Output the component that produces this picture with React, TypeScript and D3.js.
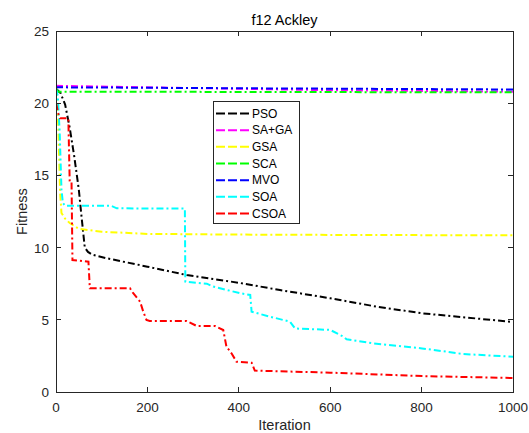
import React from "react";
import * as d3 from "d3";

type Pt = [number, number];

const xTicks = [0, 200, 400, 600, 800, 1000];
const yTicks = [0, 5, 10, 15, 20, 25];

const seriesNames = ["PSO", "SA+GA", "GSA", "SCA", "MVO", "SOA", "CSOA"];
const seriesColors = ["#000000", "#ff00ff", "#ffff00", "#00ff00", "#0000ff", "#00ffff", "#ff0000"];

const psoData: Pt[] = [
  [0, 21.0], [10, 20.7], [20, 19.9], [30, 18.3], [40, 16.3], [50, 14.0], [56, 12.1], [63, 10.0],
  [70, 9.7], [80, 9.5], [111, 9.26], [200, 8.68], [286, 8.1], [403, 7.55], [490, 7.06],
  [600, 6.49], [702, 5.91], [801, 5.45], [900, 5.15], [1000, 4.85],
];
const sagaData: Pt[] = [[0, 21.2], [300, 21.05], [600, 20.9], [1000, 20.8]];
const gsaData: Pt[] = [
  [0, 21.0], [5, 18.4], [9, 13.8], [12, 12.4], [20, 12.0], [30, 11.7], [50, 11.3],
  [100, 11.1], [200, 10.95], [400, 10.9], [700, 10.87], [1000, 10.85],
];
const scaData: Pt[] = [[0, 21.0], [5, 20.8], [1000, 20.75]];
const mvoData: Pt[] = [[0, 21.1], [500, 21.02], [1000, 20.95]];
const soaData: Pt[] = [
  [0, 21.0], [4, 20.5], [8, 18.0], [12, 14.0], [15, 13.1], [20, 12.9], [120, 12.9], [133, 12.72],
  [282, 12.7], [283, 7.64], [330, 7.5], [344, 7.3], [403, 6.84], [425, 6.72], [428, 5.56],
  [468, 5.22], [512, 4.87], [523, 4.4], [600, 4.3], [629, 3.83], [636, 3.65], [694, 3.37],
  [801, 3.02], [855, 2.79], [891, 2.63], [1000, 2.44],
];
const csoaData: Pt[] = [
  [0, 20.0], [5, 19.3], [9, 18.95], [27, 18.95], [30, 14.56], [34, 14.56], [36, 9.14],
  [71, 9.02], [74, 7.18], [162, 7.18], [169, 6.84], [184, 6.26], [191, 5.56], [198, 4.99],
  [205, 4.92], [286, 4.92], [308, 4.57], [348, 4.57], [366, 4.29], [373, 3.14], [384, 2.68],
  [395, 2.1], [428, 2.03], [435, 1.48], [600, 1.34], [801, 1.1], [1000, 0.97],
];

const allData = [psoData, sagaData, gsaData, scaData, mvoData, soaData, csoaData];

const W = 529;
const H = 433;
const left = 56;
const right = 513;
const top = 31;
const bottom = 392;

export default function App() {
  const x = d3.scaleLinear().domain([0, 1000]).range([left, right]);
  const y = d3.scaleLinear().domain([0, 25]).range([bottom, top]);
  const line = d3.line<Pt>().x((d) => x(d[0])).y((d) => y(d[1]));
  const font = "'Liberation Sans', Arial, Helvetica, sans-serif";
  const dash = "7,3,2,3";
  const tickLen = 5;

  const legX = 213;
  const legY = 101;
  const legW = 86;
  const legH = 122;
  const rowH = 16.67;

  return (
    <svg
      width={W}
      height={H}
      style={{ position: "absolute", left: 0, top: 0, background: "#fff" }}
      fontFamily={font}
    >
      <rect x={0} y={0} width={W} height={H} fill="#fff" />
      <defs>
        <clipPath id="plotclip">
          <rect x={left} y={top} width={right - left} height={bottom - top} />
        </clipPath>
      </defs>
      <rect x={left} y={top} width={right - left} height={bottom - top} fill="#fff" />
      <g clipPath="url(#plotclip)">
        {allData.map((data, i) => (
          <path
            key={seriesNames[i]}
            d={line(data) || ""}
            fill="none"
            stroke={seriesColors[i]}
            strokeWidth={2}
            strokeDasharray={dash}
          />
        ))}
      </g>
      {/* axes box */}
      <rect
        x={left}
        y={top}
        width={right - left}
        height={bottom - top}
        fill="none"
        stroke="#262626"
        strokeWidth={1}
        shapeRendering="crispEdges"
      />
      {xTicks.map((t) => (
        <g key={"x" + t}>
          <line x1={x(t)} x2={x(t)} y1={bottom} y2={bottom - tickLen} stroke="#262626" shapeRendering="crispEdges" />
          <line x1={x(t)} x2={x(t)} y1={top} y2={top + tickLen} stroke="#262626" shapeRendering="crispEdges" />
          <text x={x(t)} y={bottom + 20} textAnchor="middle" fontSize={13.5} fill="#262626">
            {t}
          </text>
        </g>
      ))}
      {yTicks.map((t) => (
        <g key={"y" + t}>
          <line x1={left} x2={left + tickLen} y1={y(t)} y2={y(t)} stroke="#262626" shapeRendering="crispEdges" />
          <line x1={right} x2={right - tickLen} y1={y(t)} y2={y(t)} stroke="#262626" shapeRendering="crispEdges" />
          <text x={left - 7} y={y(t) + 5} textAnchor="end" fontSize={13.5} fill="#262626">
            {t}
          </text>
        </g>
      ))}
      <text x={(left + right) / 2} y={25} textAnchor="middle" fontSize={14.5} fill="#000">
        f12 Ackley
      </text>
      <text x={(left + right) / 2} y={430} textAnchor="middle" fontSize={14.5} fill="#262626">
        Iteration
      </text>
      <text
        transform={`translate(27, ${(top + bottom) / 2}) rotate(-90)`}
        textAnchor="middle"
        fontSize={14.5}
        fill="#262626"
      >
        Fitness
      </text>
      {/* legend */}
      <rect x={legX} y={legY} width={legW} height={legH} fill="#fff" stroke="#262626" strokeWidth={1} shapeRendering="crispEdges" />
      {seriesNames.map((name, i) => {
        const cy = legY + 12.5 + i * rowH;
        return (
          <g key={"leg" + name}>
            <line x1={legX + 3} x2={legX + 36} y1={cy} y2={cy} stroke={seriesColors[i]} strokeWidth={2} strokeDasharray="9,3" />
            <text x={legX + 39} y={cy + 4.2} fontSize={12} fill="#000">
              {name}
            </text>
          </g>
        );
      })}
    </svg>
  );
}
